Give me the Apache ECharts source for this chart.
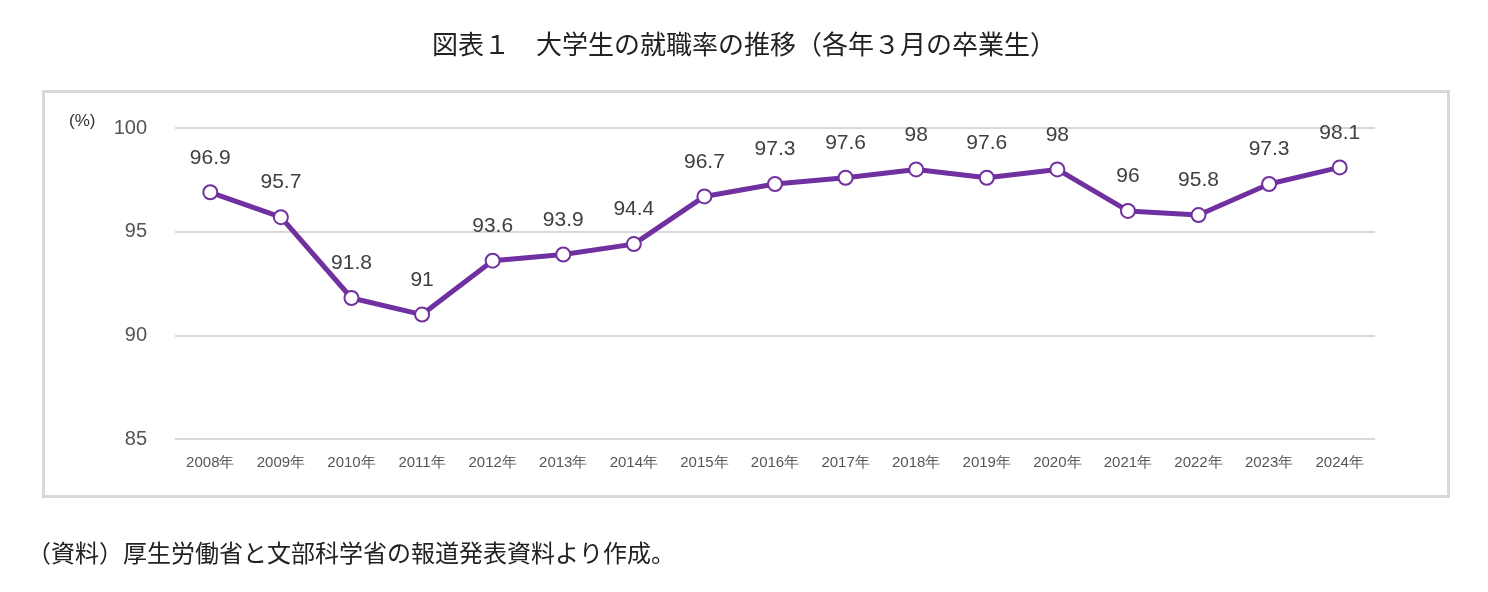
<!DOCTYPE html>
<html><head><meta charset="utf-8">
<script src="https://cdn.jsdelivr.net/npm/echarts@6/dist/echarts.min.js"></script>
<style>
body{margin:0;background:#fff;font-family:"Noto Sans CJK JP",sans-serif}
#box{position:absolute;left:42px;top:90px;width:1402px;height:402px;border:3px solid #d9d9d9}
#main{position:absolute;left:0;top:0;width:1488px;height:592px}
</style></head><body>
<div id="box"></div>
<div id="main"></div>
<script>
var years = ['2008年','2009年','2010年','2011年','2012年','2013年','2014年','2015年','2016年','2017年','2018年','2019年','2020年','2021年','2022年','2023年','2024年'];
var rates = [96.9,95.7,91.8,91,93.6,93.9,94.4,96.7,97.3,97.6,98,97.6,98,96,95.8,97.3,98.1];

var chart = echarts.init(document.getElementById('main'));
chart.setOption({
	animation: false,
	title: [{
		text: '図表１　大学生の就職率の推移（各年３月の卒業生）',
		left: 'center', top: 26,
		textStyle: {fontSize: 26, fontWeight: 'normal', color: '#222', fontFamily: 'Noto Sans CJK JP'}
	}, {
		text: '（資料）厚生労働省と文部科学省の報道発表資料より作成。',
		left: 22, top: 536,
		textStyle: {fontSize: 24, fontWeight: 'normal', color: '#222', fontFamily: 'Noto Sans CJK JP'}
	}, {
		text: '(%)',
		left: 64, top: 108,
		textStyle: {fontSize: 17, fontWeight: 'normal', color: '#333'}
	}],
	grid: {left: 175, right: 113, top: 128, bottom: 153},
	xAxis: {
		type: 'category', data: years,
		axisLine: {lineStyle: {color: '#d9d9d9'}},
		axisTick: {show: false},
		axisLabel: {color: '#555', fontSize: 15, margin: 16}
	},
	yAxis: {
		type: 'value', min: 85, max: 100, interval: 5,
		axisLabel: {color: '#555', fontSize: 20, margin: 28},
		splitLine: {lineStyle: {color: '#d9d9d9', width: 2}}
	},
	series: [{
		type: 'line', data: rates,
		lineStyle: {color: '#7030a0', width: 5},
		itemStyle: {color: '#fff', borderColor: '#7030a0', borderWidth: 2},
		symbol: 'circle', symbolSize: 14,
		label: {show: true, position: 'top', distance: 16, color: '#404040', fontSize: 21}
	}]
});
</script>
</body></html>
